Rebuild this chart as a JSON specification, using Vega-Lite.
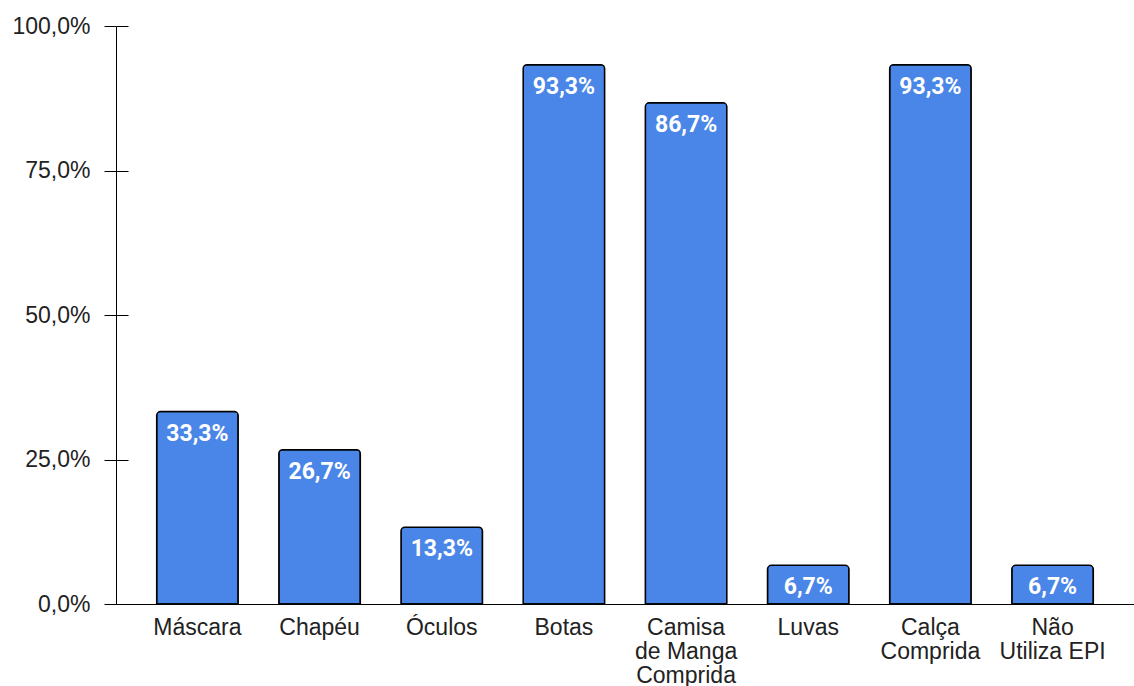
{
  "$schema": "https://vega.github.io/schema/vega-lite/v6.json",
  "width": 1018,
  "height": 578,
  "autosize": {"type": "none"},
  "padding": {"left": 116, "top": 26, "right": 0, "bottom": 82},
  "config": {
    "locale": {"number": {"decimal": ",", "thousands": ".", "grouping": [3], "currency": ["R$", ""]}},
    "view": {"stroke": null},
    "font": "Liberation Sans"
  },
  "data": {
    "values": [
      {"item": "Máscara", "value": 0.333},
      {"item": "Chapéu", "value": 0.267},
      {"item": "Óculos", "value": 0.133},
      {"item": "Botas", "value": 0.933},
      {"item": "Camisa de Manga Comprida", "value": 0.867},
      {"item": "Luvas", "value": 0.067},
      {"item": "Calça Comprida", "value": 0.933},
      {"item": "Não Utiliza EPI", "value": 0.067}
    ]
  },
  "encoding": {
    "x": {
      "field": "item",
      "type": "nominal",
      "sort": null,
      "scale": {"paddingInner": 0.333, "paddingOuter": 0.333},
      "axis": {
        "title": null,
        "labelAngle": 0,
        "ticks": false,
        "tickSize": 0,
        "labelPadding": 12,
        "labelFont": "Liberation Sans",
        "labelFontSize": 23,
        "labelColor": "#222222",
        "labelLineHeight": 24,
        "domainColor": "#000000",
        "domainWidth": 1,
        "labelExpr": "datum.value == 'Camisa de Manga Comprida' ? ['Camisa', 'de Manga', 'Comprida'] : datum.value == 'Calça Comprida' ? ['Calça', 'Comprida'] : datum.value == 'Não Utiliza EPI' ? ['Não', 'Utiliza EPI'] : datum.value"
      }
    },
    "y": {
      "field": "value",
      "type": "quantitative",
      "scale": {"domain": [0, 1], "nice": false}
    }
  },
  "layer": [
    {
      "mark": {
        "type": "bar",
        "color": "#4A86E8",
        "stroke": "#000000",
        "strokeWidth": 1.5,
        "cornerRadiusTopLeft": 4,
        "cornerRadiusTopRight": 4
      },
      "encoding": {
        "y": {
          "field": "value",
          "type": "quantitative",
          "scale": {"domain": [0, 1], "nice": false},
          "axis": {
            "title": null,
            "grid": false,
            "values": [0, 0.25, 0.5, 0.75, 1],
            "format": ".1%",
            "tickSize": 12,
            "tickColor": "#000000",
            "tickWidth": 1,
            "domainColor": "#000000",
            "domainWidth": 1,
            "labelPadding": 14,
            "labelFont": "Liberation Sans",
            "labelFontSize": 23,
            "labelColor": "#222222"
          }
        }
      }
    },
    {
      "mark": {
        "type": "text",
        "baseline": "top",
        "dy": 11,
        "color": "#ffffff",
        "fontWeight": "bold",
        "fontSize": 23,
        "font": "Roboto"
      },
      "encoding": {
        "text": {"field": "value", "type": "quantitative", "format": ".1%"},
        "y": {
          "field": "value",
          "type": "quantitative",
          "scale": {"domain": [0, 1], "nice": false},
          "axis": {
            "orient": "left",
            "title": null,
            "grid": false,
            "labels": false,
            "domain": false,
            "values": [0, 0.25, 0.5, 0.75, 1],
            "tickSize": -12,
            "tickColor": "#000000",
            "tickWidth": 1
          }
        }
      }
    }
  ],
  "resolve": {"axis": {"y": "independent"}}
}
